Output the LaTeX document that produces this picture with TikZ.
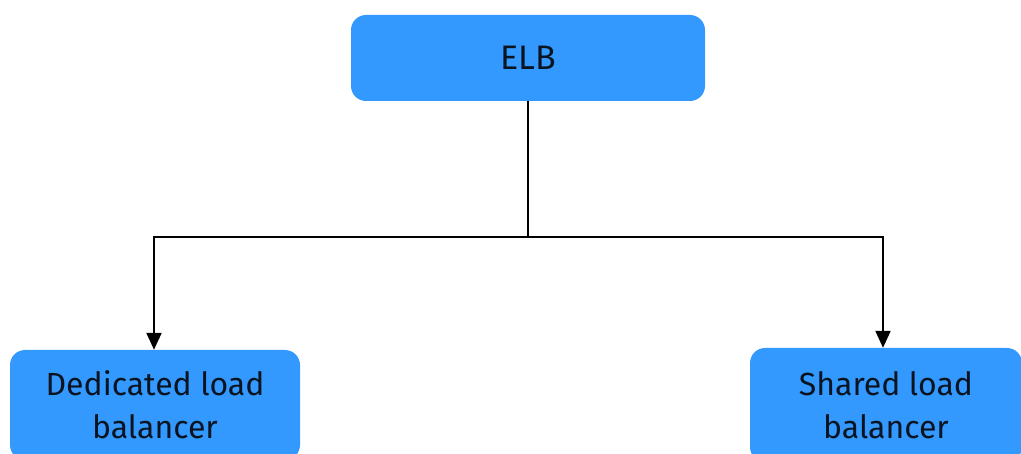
\documentclass[tikz,border=0pt]{standalone}
\usepackage{fontspec}
\setmainfont{Fira Sans}
\usetikzlibrary{arrows.meta}
\definecolor{boxblue}{HTML}{3399FF}
\definecolor{boxtext}{HTML}{0A1420}
\begin{document}
\begin{tikzpicture}[x=1pt,y=-1pt,
  blockbox/.style={fill=boxblue, draw=none, rounded corners=15pt, text=boxtext,
    align=center, inner sep=0pt},
  link/.style={line width=2.2pt, draw=black},
  tiplink/.style={link, -{Triangle[width=15pt,length=17pt]}}]
  \useasboundingbox (0,0) rectangle (1021,454);
  \clip (0,0) rectangle (1021,454);
  % root and the two balancer types
  \node[blockbox, minimum width=354pt, minimum height=86pt, font=\fontsize{34}{40}\selectfont]
    (elb) at (528,58) {ELB};
  \node[blockbox, minimum width=290pt, minimum height=110pt, font=\fontsize{32}{43}\selectfont]
    (ded) at (155,405) {Dedicated load\\balancer};
  \node[blockbox, minimum width=272pt, minimum height=114pt, font=\fontsize{32}{43}\selectfont]
    (shr) at (886,405) {Shared load\\balancer};
  % branching connectors
  \coordinate (fork) at (528,237);
  \draw[link] (elb.south) -- (fork);
  \draw[tiplink] (fork) -| (ded.north -| 154,0);
  \draw[tiplink] (fork) -| (shr.north -| 883,0);
\end{tikzpicture}
\end{document}
